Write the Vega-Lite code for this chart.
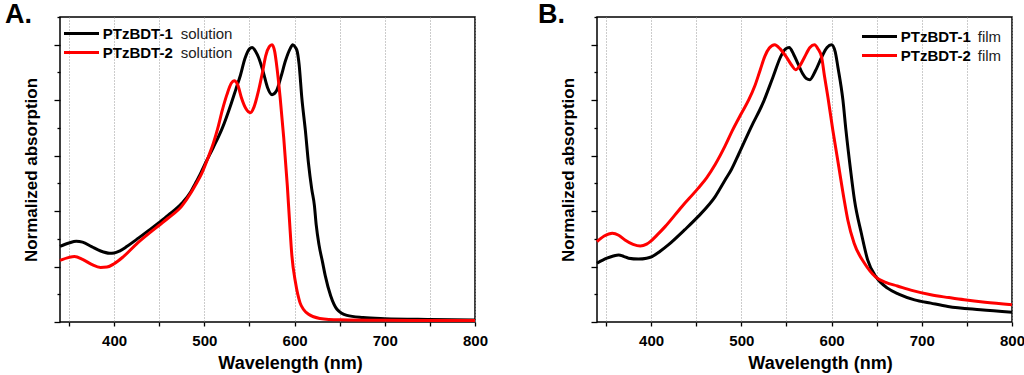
{
  "$schema": "https://vega.github.io/schema/vega-lite/v6.json",
  "background": "white",
  "padding": {"left": 4, "top": 0, "right": 0, "bottom": 0},
  "spacing": 48,
  "config": {
    "font": "Liberation Sans",
    "view": {"stroke": "#000", "strokeWidth": 1.5},
    "axis": {
      "domain": false,
      "tickColor": "#000",
      "tickWidth": 1.3,
      "labelColor": "#000",
      "titleColor": "#000",
      "titleFontWeight": "bold"
    },
    "axisX": {
      "values": [350, 400, 450, 500, 550, 600, 650, 700, 750, 800],
      "grid": true,
      "gridColor": "#999999",
      "gridDash": [1, 2],
      "gridWidth": 1,
      "labelExpr": "datum.value % 100 === 0 ? datum.label : ''",
      "labelFontSize": 15,
      "labelFontWeight": "bold",
      "labelFlush": false,
      "labelOverlap": false,
      "labelPadding": 7,
      "tickSize": 4,
      "titleFontSize": 18,
      "titleY": 32,
      "titleBaseline": "top"
    },
    "axisY": {
      "values": [0, 0.1, 0.2, 0.3, 0.4, 0.5, 0.6, 0.7, 0.8, 0.9, 1.0],
      "grid": false,
      "labels": false,
      "tickSize": {"condition": {"test": "round(datum.value*10) % 2 === 0", "value": 6}, "value": 3},
      "titleFontSize": 17,
      "titlePadding": 13
    },
    "legend": {
      "orient": "none",
      "title": null,
      "padding": 0,
      "symbolType": "M-2,0H2",
      "symbolSize": 306.25,
      "symbolStrokeWidth": 3,
      "labelFontSize": 15,
      "labelOffset": 10.75,
      "rowPadding": -2
    }
  },
  "resolve": {
    "scale": {"color": "independent", "opacity": "independent", "x": "independent", "y": "independent"},
    "legend": {"color": "independent", "opacity": "independent"}
  },
  "datasets": {
    "A": [
      {"series": "PTzBDT-1 solution", "wl": 340, "abs": 0.273},
      {"series": "PTzBDT-1 solution", "wl": 350, "abs": 0.285},
      {"series": "PTzBDT-1 solution", "wl": 358, "abs": 0.291},
      {"series": "PTzBDT-1 solution", "wl": 365, "abs": 0.288},
      {"series": "PTzBDT-1 solution", "wl": 375, "abs": 0.272},
      {"series": "PTzBDT-1 solution", "wl": 385, "abs": 0.256},
      {"series": "PTzBDT-1 solution", "wl": 395, "abs": 0.248},
      {"series": "PTzBDT-1 solution", "wl": 400, "abs": 0.249},
      {"series": "PTzBDT-1 solution", "wl": 406, "abs": 0.256},
      {"series": "PTzBDT-1 solution", "wl": 414, "abs": 0.272},
      {"series": "PTzBDT-1 solution", "wl": 425, "abs": 0.298},
      {"series": "PTzBDT-1 solution", "wl": 440, "abs": 0.334},
      {"series": "PTzBDT-1 solution", "wl": 450, "abs": 0.359},
      {"series": "PTzBDT-1 solution", "wl": 460, "abs": 0.385},
      {"series": "PTzBDT-1 solution", "wl": 475, "abs": 0.428},
      {"series": "PTzBDT-1 solution", "wl": 485, "abs": 0.47},
      {"series": "PTzBDT-1 solution", "wl": 490, "abs": 0.5},
      {"series": "PTzBDT-1 solution", "wl": 495, "abs": 0.53},
      {"series": "PTzBDT-1 solution", "wl": 500, "abs": 0.565},
      {"series": "PTzBDT-1 solution", "wl": 510, "abs": 0.63},
      {"series": "PTzBDT-1 solution", "wl": 520, "abs": 0.7},
      {"series": "PTzBDT-1 solution", "wl": 530, "abs": 0.79},
      {"series": "PTzBDT-1 solution", "wl": 535, "abs": 0.84},
      {"series": "PTzBDT-1 solution", "wl": 540, "abs": 0.89},
      {"series": "PTzBDT-1 solution", "wl": 545, "abs": 0.95},
      {"series": "PTzBDT-1 solution", "wl": 550, "abs": 0.985},
      {"series": "PTzBDT-1 solution", "wl": 553, "abs": 0.99},
      {"series": "PTzBDT-1 solution", "wl": 557, "abs": 0.975},
      {"series": "PTzBDT-1 solution", "wl": 560, "abs": 0.955},
      {"series": "PTzBDT-1 solution", "wl": 565, "abs": 0.905},
      {"series": "PTzBDT-1 solution", "wl": 570, "abs": 0.846},
      {"series": "PTzBDT-1 solution", "wl": 575, "abs": 0.82},
      {"series": "PTzBDT-1 solution", "wl": 580, "abs": 0.834},
      {"series": "PTzBDT-1 solution", "wl": 585, "abs": 0.885},
      {"series": "PTzBDT-1 solution", "wl": 590, "abs": 0.943},
      {"series": "PTzBDT-1 solution", "wl": 595, "abs": 0.985},
      {"series": "PTzBDT-1 solution", "wl": 598, "abs": 1.0},
      {"series": "PTzBDT-1 solution", "wl": 601, "abs": 0.99},
      {"series": "PTzBDT-1 solution", "wl": 603, "abs": 0.975},
      {"series": "PTzBDT-1 solution", "wl": 605, "abs": 0.93},
      {"series": "PTzBDT-1 solution", "wl": 608, "abs": 0.81},
      {"series": "PTzBDT-1 solution", "wl": 612, "abs": 0.69},
      {"series": "PTzBDT-1 solution", "wl": 615.5, "abs": 0.57},
      {"series": "PTzBDT-1 solution", "wl": 619, "abs": 0.48},
      {"series": "PTzBDT-1 solution", "wl": 622, "abs": 0.42},
      {"series": "PTzBDT-1 solution", "wl": 624, "abs": 0.35},
      {"series": "PTzBDT-1 solution", "wl": 627, "abs": 0.28},
      {"series": "PTzBDT-1 solution", "wl": 631, "abs": 0.216},
      {"series": "PTzBDT-1 solution", "wl": 634, "abs": 0.167},
      {"series": "PTzBDT-1 solution", "wl": 640, "abs": 0.095},
      {"series": "PTzBDT-1 solution", "wl": 647, "abs": 0.046},
      {"series": "PTzBDT-1 solution", "wl": 658, "abs": 0.024},
      {"series": "PTzBDT-1 solution", "wl": 676, "abs": 0.016},
      {"series": "PTzBDT-1 solution", "wl": 700, "abs": 0.012},
      {"series": "PTzBDT-1 solution", "wl": 750, "abs": 0.009},
      {"series": "PTzBDT-1 solution", "wl": 800, "abs": 0.007},
      {"series": "PTzBDT-2 solution", "wl": 340, "abs": 0.222},
      {"series": "PTzBDT-2 solution", "wl": 350, "abs": 0.233},
      {"series": "PTzBDT-2 solution", "wl": 356, "abs": 0.236},
      {"series": "PTzBDT-2 solution", "wl": 365, "abs": 0.226},
      {"series": "PTzBDT-2 solution", "wl": 375, "abs": 0.208},
      {"series": "PTzBDT-2 solution", "wl": 385, "abs": 0.197},
      {"series": "PTzBDT-2 solution", "wl": 392, "abs": 0.198},
      {"series": "PTzBDT-2 solution", "wl": 400, "abs": 0.21},
      {"series": "PTzBDT-2 solution", "wl": 410, "abs": 0.235},
      {"series": "PTzBDT-2 solution", "wl": 425, "abs": 0.282},
      {"series": "PTzBDT-2 solution", "wl": 440, "abs": 0.323},
      {"series": "PTzBDT-2 solution", "wl": 450, "abs": 0.349},
      {"series": "PTzBDT-2 solution", "wl": 460, "abs": 0.375},
      {"series": "PTzBDT-2 solution", "wl": 475, "abs": 0.418},
      {"series": "PTzBDT-2 solution", "wl": 485, "abs": 0.465},
      {"series": "PTzBDT-2 solution", "wl": 490, "abs": 0.493},
      {"series": "PTzBDT-2 solution", "wl": 497, "abs": 0.535},
      {"series": "PTzBDT-2 solution", "wl": 505, "abs": 0.6},
      {"series": "PTzBDT-2 solution", "wl": 510, "abs": 0.645},
      {"series": "PTzBDT-2 solution", "wl": 515, "abs": 0.7},
      {"series": "PTzBDT-2 solution", "wl": 520, "abs": 0.765},
      {"series": "PTzBDT-2 solution", "wl": 525, "abs": 0.82},
      {"series": "PTzBDT-2 solution", "wl": 530, "abs": 0.862},
      {"series": "PTzBDT-2 solution", "wl": 533, "abs": 0.87},
      {"series": "PTzBDT-2 solution", "wl": 537, "abs": 0.855},
      {"series": "PTzBDT-2 solution", "wl": 541, "abs": 0.81},
      {"series": "PTzBDT-2 solution", "wl": 546, "abs": 0.77},
      {"series": "PTzBDT-2 solution", "wl": 551, "abs": 0.755},
      {"series": "PTzBDT-2 solution", "wl": 555, "abs": 0.775},
      {"series": "PTzBDT-2 solution", "wl": 560, "abs": 0.834},
      {"series": "PTzBDT-2 solution", "wl": 565, "abs": 0.91},
      {"series": "PTzBDT-2 solution", "wl": 568, "abs": 0.96},
      {"series": "PTzBDT-2 solution", "wl": 572, "abs": 0.993},
      {"series": "PTzBDT-2 solution", "wl": 575, "abs": 1.0},
      {"series": "PTzBDT-2 solution", "wl": 578, "abs": 0.975},
      {"series": "PTzBDT-2 solution", "wl": 580, "abs": 0.93},
      {"series": "PTzBDT-2 solution", "wl": 584, "abs": 0.81},
      {"series": "PTzBDT-2 solution", "wl": 588, "abs": 0.664},
      {"series": "PTzBDT-2 solution", "wl": 592, "abs": 0.49},
      {"series": "PTzBDT-2 solution", "wl": 594.5, "abs": 0.36},
      {"series": "PTzBDT-2 solution", "wl": 597, "abs": 0.24},
      {"series": "PTzBDT-2 solution", "wl": 601, "abs": 0.143},
      {"series": "PTzBDT-2 solution", "wl": 606, "abs": 0.07},
      {"series": "PTzBDT-2 solution", "wl": 610, "abs": 0.045},
      {"series": "PTzBDT-2 solution", "wl": 615.5, "abs": 0.028},
      {"series": "PTzBDT-2 solution", "wl": 628, "abs": 0.013},
      {"series": "PTzBDT-2 solution", "wl": 650, "abs": 0.008},
      {"series": "PTzBDT-2 solution", "wl": 700, "abs": 0.006},
      {"series": "PTzBDT-2 solution", "wl": 800, "abs": 0.005}
    ],
    "B": [
      {"series": "PTzBDT-1 film", "wl": 340, "abs": 0.212},
      {"series": "PTzBDT-1 film", "wl": 351, "abs": 0.23},
      {"series": "PTzBDT-1 film", "wl": 358, "abs": 0.238},
      {"series": "PTzBDT-1 film", "wl": 364, "abs": 0.242},
      {"series": "PTzBDT-1 film", "wl": 370, "abs": 0.236},
      {"series": "PTzBDT-1 film", "wl": 375, "abs": 0.23},
      {"series": "PTzBDT-1 film", "wl": 386, "abs": 0.227},
      {"series": "PTzBDT-1 film", "wl": 395, "abs": 0.23},
      {"series": "PTzBDT-1 film", "wl": 401, "abs": 0.236},
      {"series": "PTzBDT-1 film", "wl": 410, "abs": 0.255},
      {"series": "PTzBDT-1 film", "wl": 419, "abs": 0.278},
      {"series": "PTzBDT-1 film", "wl": 437, "abs": 0.332},
      {"series": "PTzBDT-1 film", "wl": 452, "abs": 0.38},
      {"series": "PTzBDT-1 film", "wl": 471, "abs": 0.452},
      {"series": "PTzBDT-1 film", "wl": 482, "abs": 0.512},
      {"series": "PTzBDT-1 film", "wl": 489, "abs": 0.55},
      {"series": "PTzBDT-1 film", "wl": 497, "abs": 0.605},
      {"series": "PTzBDT-1 film", "wl": 511, "abs": 0.704},
      {"series": "PTzBDT-1 film", "wl": 524, "abs": 0.79},
      {"series": "PTzBDT-1 film", "wl": 535, "abs": 0.883},
      {"series": "PTzBDT-1 film", "wl": 544, "abs": 0.96},
      {"series": "PTzBDT-1 film", "wl": 549, "abs": 0.985},
      {"series": "PTzBDT-1 film", "wl": 553, "abs": 0.99},
      {"series": "PTzBDT-1 film", "wl": 558, "abs": 0.965},
      {"series": "PTzBDT-1 film", "wl": 563, "abs": 0.93},
      {"series": "PTzBDT-1 film", "wl": 568, "abs": 0.895},
      {"series": "PTzBDT-1 film", "wl": 572, "abs": 0.878},
      {"series": "PTzBDT-1 film", "wl": 576, "abs": 0.874},
      {"series": "PTzBDT-1 film", "wl": 582, "abs": 0.905},
      {"series": "PTzBDT-1 film", "wl": 589, "abs": 0.955},
      {"series": "PTzBDT-1 film", "wl": 595, "abs": 0.99},
      {"series": "PTzBDT-1 film", "wl": 600, "abs": 1.0},
      {"series": "PTzBDT-1 film", "wl": 604, "abs": 0.975},
      {"series": "PTzBDT-1 film", "wl": 607, "abs": 0.92},
      {"series": "PTzBDT-1 film", "wl": 612.6, "abs": 0.8},
      {"series": "PTzBDT-1 film", "wl": 616, "abs": 0.69},
      {"series": "PTzBDT-1 film", "wl": 621, "abs": 0.55},
      {"series": "PTzBDT-1 film", "wl": 625.4, "abs": 0.44},
      {"series": "PTzBDT-1 film", "wl": 633, "abs": 0.32},
      {"series": "PTzBDT-1 film", "wl": 640, "abs": 0.224},
      {"series": "PTzBDT-1 film", "wl": 649, "abs": 0.164},
      {"series": "PTzBDT-1 film", "wl": 662, "abs": 0.122},
      {"series": "PTzBDT-1 film", "wl": 675, "abs": 0.1},
      {"series": "PTzBDT-1 film", "wl": 692, "abs": 0.08},
      {"series": "PTzBDT-1 film", "wl": 710, "abs": 0.068},
      {"series": "PTzBDT-1 film", "wl": 729, "abs": 0.056},
      {"series": "PTzBDT-1 film", "wl": 765, "abs": 0.044},
      {"series": "PTzBDT-1 film", "wl": 800, "abs": 0.035},
      {"series": "PTzBDT-2 film", "wl": 340, "abs": 0.29},
      {"series": "PTzBDT-2 film", "wl": 348, "abs": 0.31},
      {"series": "PTzBDT-2 film", "wl": 357, "abs": 0.32},
      {"series": "PTzBDT-2 film", "wl": 364, "abs": 0.313},
      {"series": "PTzBDT-2 film", "wl": 371, "abs": 0.296},
      {"series": "PTzBDT-2 film", "wl": 380, "abs": 0.28},
      {"series": "PTzBDT-2 film", "wl": 388, "abs": 0.274},
      {"series": "PTzBDT-2 film", "wl": 395, "abs": 0.281},
      {"series": "PTzBDT-2 film", "wl": 399, "abs": 0.29},
      {"series": "PTzBDT-2 film", "wl": 407, "abs": 0.315},
      {"series": "PTzBDT-2 film", "wl": 415.5, "abs": 0.344},
      {"series": "PTzBDT-2 film", "wl": 434, "abs": 0.416},
      {"series": "PTzBDT-2 film", "wl": 452, "abs": 0.482},
      {"series": "PTzBDT-2 film", "wl": 461.5, "abs": 0.52},
      {"series": "PTzBDT-2 film", "wl": 471, "abs": 0.568},
      {"series": "PTzBDT-2 film", "wl": 482, "abs": 0.635},
      {"series": "PTzBDT-2 film", "wl": 490, "abs": 0.69},
      {"series": "PTzBDT-2 film", "wl": 500, "abs": 0.752},
      {"series": "PTzBDT-2 film", "wl": 508, "abs": 0.8},
      {"series": "PTzBDT-2 film", "wl": 515, "abs": 0.852},
      {"series": "PTzBDT-2 film", "wl": 521, "abs": 0.91},
      {"series": "PTzBDT-2 film", "wl": 526, "abs": 0.958},
      {"series": "PTzBDT-2 film", "wl": 531, "abs": 0.988},
      {"series": "PTzBDT-2 film", "wl": 537, "abs": 1.0},
      {"series": "PTzBDT-2 film", "wl": 543, "abs": 0.985},
      {"series": "PTzBDT-2 film", "wl": 550, "abs": 0.955},
      {"series": "PTzBDT-2 film", "wl": 556, "abs": 0.925},
      {"series": "PTzBDT-2 film", "wl": 560, "abs": 0.91},
      {"series": "PTzBDT-2 film", "wl": 565, "abs": 0.925},
      {"series": "PTzBDT-2 film", "wl": 570, "abs": 0.955},
      {"series": "PTzBDT-2 film", "wl": 576, "abs": 0.99},
      {"series": "PTzBDT-2 film", "wl": 581, "abs": 1.0},
      {"series": "PTzBDT-2 film", "wl": 585, "abs": 0.985},
      {"series": "PTzBDT-2 film", "wl": 589, "abs": 0.955},
      {"series": "PTzBDT-2 film", "wl": 592, "abs": 0.89},
      {"series": "PTzBDT-2 film", "wl": 596, "abs": 0.81},
      {"series": "PTzBDT-2 film", "wl": 601.5, "abs": 0.69},
      {"series": "PTzBDT-2 film", "wl": 608, "abs": 0.56},
      {"series": "PTzBDT-2 film", "wl": 614, "abs": 0.44},
      {"series": "PTzBDT-2 film", "wl": 618, "abs": 0.368},
      {"series": "PTzBDT-2 film", "wl": 625, "abs": 0.284},
      {"series": "PTzBDT-2 film", "wl": 636.5, "abs": 0.212},
      {"series": "PTzBDT-2 film", "wl": 649, "abs": 0.162},
      {"series": "PTzBDT-2 film", "wl": 660, "abs": 0.143},
      {"series": "PTzBDT-2 film", "wl": 673, "abs": 0.13},
      {"series": "PTzBDT-2 film", "wl": 690, "abs": 0.113},
      {"series": "PTzBDT-2 film", "wl": 710, "abs": 0.098},
      {"series": "PTzBDT-2 film", "wl": 730, "abs": 0.088},
      {"series": "PTzBDT-2 film", "wl": 747, "abs": 0.08},
      {"series": "PTzBDT-2 film", "wl": 770, "abs": 0.071},
      {"series": "PTzBDT-2 film", "wl": 800, "abs": 0.062}
    ]
  },
  "hconcat": [
    {
      "width": 415,
      "height": 305,
      "title": {"text": "A.", "anchor": "start", "frame": "group", "fontSize": 27, "fontWeight": "bold", "baseline": "alphabetic", "offset": -26, "dx": -55, "dy": 8, "color": "#000"},
      "data": {"name": "A"},
      "mark": {"type": "line", "strokeWidth": 3, "interpolate": "monotone"},
      "encoding": {
        "x": {"field": "wl", "type": "quantitative", "scale": {"domain": [340, 800], "nice": false, "zero": false}, "axis": {"title": "Wavelength (nm)", "titleX": 230}},
        "y": {"field": "abs", "type": "quantitative", "scale": {"domain": [0, 1.1], "nice": false}, "axis": {"title": "Normalized absorption"}},
        "color": {
          "field": "series", "type": "nominal",
          "scale": {"domain": ["PTzBDT-1 solution", "PTzBDT-2 solution"], "range": ["#000000", "#ff0000"]},
          "legend": {"legendX": 11, "legendY": 6, "labelFontWeight": "bold", "labelColor": "#000", "labelExpr": "split(datum.label, ' ')[0]"}
        },
        "opacity": {
          "field": "series", "type": "nominal",
          "scale": {"range": [1, 1]},
          "legend": {"legendX": 89, "legendY": 6, "symbolStrokeColor": "transparent", "labelFontWeight": "normal", "labelColor": "#222", "labelExpr": "split(datum.label, ' ')[1]"}
        }
      }
    },
    {
      "width": 415,
      "height": 305,
      "title": {"text": "B.", "anchor": "start", "frame": "group", "fontSize": 27, "fontWeight": "bold", "baseline": "alphabetic", "offset": -26, "dx": -59, "dy": 8, "color": "#000"},
      "data": {"name": "B"},
      "mark": {"type": "line", "strokeWidth": 3, "interpolate": "monotone"},
      "encoding": {
        "x": {"field": "wl", "type": "quantitative", "scale": {"domain": [340, 800], "nice": false, "zero": false}, "axis": {"title": "Wavelength (nm)", "titleX": 223}},
        "y": {"field": "abs", "type": "quantitative", "scale": {"domain": [0, 1.1], "nice": false}, "axis": {"title": "Normalized absorption"}},
        "color": {
          "field": "series", "type": "nominal",
          "scale": {"domain": ["PTzBDT-1 film", "PTzBDT-2 film"], "range": ["#000000", "#ff0000"]},
          "legend": {"legendX": 272, "legendY": 9, "labelFontWeight": "bold", "labelColor": "#000", "labelExpr": "split(datum.label, ' ')[0]"}
        },
        "opacity": {
          "field": "series", "type": "nominal",
          "scale": {"range": [1, 1]},
          "legend": {"legendX": 349, "legendY": 9, "symbolStrokeColor": "transparent", "labelFontWeight": "normal", "labelColor": "#222", "labelExpr": "split(datum.label, ' ')[1]"}
        }
      }
    }
  ]
}
